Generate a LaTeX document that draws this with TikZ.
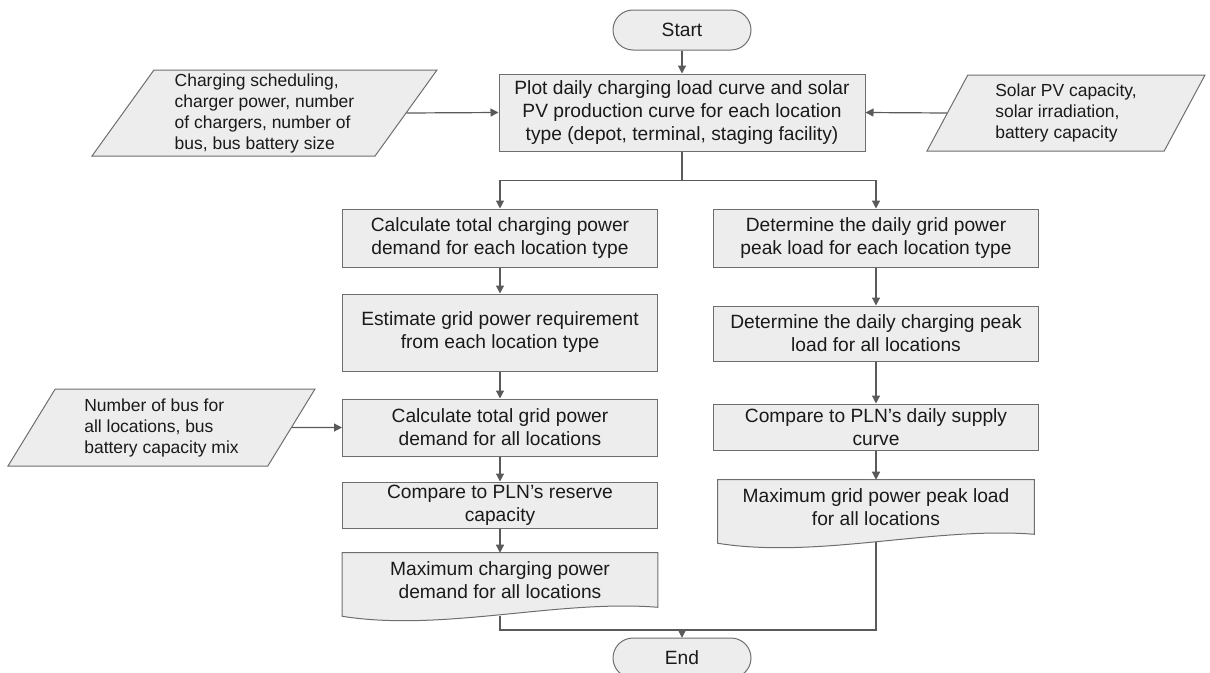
\documentclass[tikz,border=0pt]{standalone}
\usepackage{fontspec}
\setmainfont{Liberation Sans}
\usetikzlibrary{shapes.geometric,arrows.meta,backgrounds}
\definecolor{boxfill}{HTML}{EDEDED}
\definecolor{edge}{HTML}{6E6E6E}
\definecolor{arrowclr}{HTML}{5A5A5A}
\definecolor{txt}{HTML}{1A1A1A}

\begin{document}
\begin{tikzpicture}[x=0.75pt,y=-0.75pt,
        font=\fontsize{14.4}{17.25}\selectfont,
        box/.style={rectangle,draw=edge,fill=boxfill,text=txt,align=center,inner sep=0pt,line width=0.75pt},
        term/.style={box,rounded corners=15pt,minimum width=103.5pt,minimum height=30pt},
        io/.style={trapezium,trapezium left angle=#1,trapezium right angle=180-#1,trapezium stretches body,
            draw=edge,fill=boxfill,text=txt,align=left,inner sep=0pt,line width=0.75pt,
            font=\fontsize{13.1}{15.75}\selectfont},
        doc/.style={rectangle,text=txt,align=center,inner sep=0pt},
        wave/.style={draw=edge,fill=boxfill,line width=0.75pt},
        arr/.style={draw=arrowclr,line width=0.9pt,-{Triangle[length=6pt,width=6pt]}}]
        \useasboundingbox (0,0) rectangle (1210,672);

        \node[term] (start) at (682,30) {Start};
        \node[box,minimum width=274.5pt,minimum height=57.75pt] (plot) at (682,112.5) {Plot daily charging load curve and solar\\PV production curve for each location\\type (depot, terminal, staging facility)};
        \node[io=52,minimum width=258.75pt,minimum height=64.5pt] (schedin) at (264.5,113) {Charging scheduling,\\charger power, number\\of chargers, number of\\bus, bus battery size};
        \node[io=55,minimum width=208.5pt,minimum height=57pt] (solarin) at (1066,113) {Solar PV capacity,\\solar irradiation,\\battery capacity};

        \node[box,minimum width=236.25pt,minimum height=43.5pt] (totch) at (500,238) {Calculate total charging power\\demand for each location type};
        \node[box,minimum width=236.25pt,minimum height=57.75pt] (gridreq) at (500,332.5) {Estimate grid power requirement\\from each location type};
        \node[box,minimum width=236.25pt,minimum height=42.75pt] (totgrid) at (500,427.5) {Calculate total grid power\\demand for all locations};
        \node[box,minimum width=236.25pt,minimum height=34.5pt] (reserve) at (500,505) {Compare to PLN’s reserve\\capacity};
        \node[doc,minimum width=236.25pt,minimum height=40.5pt] (maxch) at (500,580) {Maximum charging power\\demand for all locations};
        \node[io=51,minimum width=230.25pt,minimum height=57.75pt] (busin) at (161.5,427.5) {Number of bus for\\all locations, bus\\battery capacity mix};

        \node[box,minimum width=243.75pt,minimum height=43.5pt] (peakgrid) at (876,238) {Determine the daily grid power\\peak load for each location type};
        \node[box,minimum width=243.75pt,minimum height=41.25pt] (peakch) at (876,333.5) {Determine the daily charging peak\\load for all locations};
        \node[box,minimum width=243.75pt,minimum height=34.5pt] (supply) at (876,427) {Compare to PLN’s daily supply\\curve};
        \node[doc,minimum width=237pt,minimum height=40.5pt] (maxgrid) at (876,507) {Maximum grid power peak load\\for all locations};

        \node[term] (end) at (682,658) {End};
        \coordinate (join) at (682,630);

        % document shapes behind their text
        \begin{scope}[on background layer]
            \draw[wave] (maxch.south east) -- (maxch.north east) -- (maxch.north west) -- ([yshift=-6.75pt]maxch.south west)
                .. controls +(100,16) and +(-100,-8) .. (maxch.south east) -- cycle;
            \draw[wave] (maxgrid.south east) -- (maxgrid.north east) -- (maxgrid.north west) -- ([yshift=-6.75pt]maxgrid.south west)
                .. controls +(100,16) and +(-100,-8) .. (maxgrid.south east) -- cycle;
        \end{scope}

        \draw[arr] (start) -- (plot);
        \draw[arr] (schedin.east) -- (plot.west);
        \draw[arr] (solarin.west) -- (plot.east);
        \draw[arr] (plot.south) -- ++(0,29) -| (totch.north);
        \draw[arr] (plot.south) -- ++(0,29) -| (peakgrid.north);
        \draw[arr] (totch) -- (gridreq);
        \draw[arr] (gridreq) -- (totgrid);
        \draw[arr] (busin.east) -- (totgrid.west);
        \draw[arr] (totgrid) -- (reserve);
        \draw[arr] (reserve) -- (maxch);
        \draw[arr] (peakgrid) -- (peakch);
        \draw[arr] (peakch) -- (supply);
        \draw[arr] (supply) -- (maxgrid);
        \draw[arr] (maxch.south) ++(0,9) |- (join) -- (end.north);
        \draw[arr] (maxgrid.south) ++(0,8) |- (join) -- (end.north);
    \end{tikzpicture}
\end{document}
